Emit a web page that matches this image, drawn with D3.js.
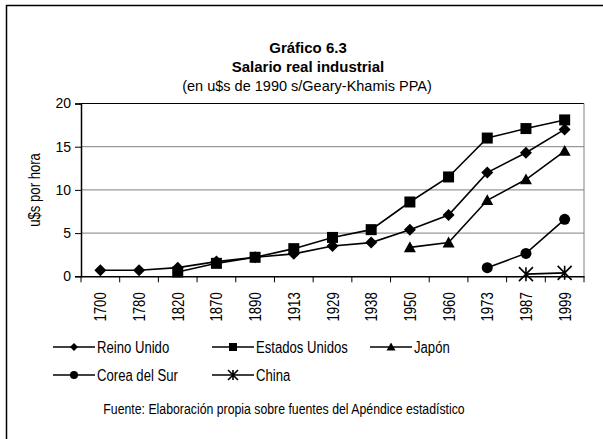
<!DOCTYPE html>
<html>
<head>
<meta charset="utf-8" />
<script src="https://cdn.jsdelivr.net/npm/d3@7"></script>
<style>
body { margin: 0; background: #fff; }
svg text { font-family: "Liberation Sans", Arial, sans-serif; fill: #000; }
.grid line { stroke: #808080; stroke-width: 1; }
.serie { fill: none; stroke: #000; stroke-width: 1.6; }
</style>
</head>
<body>
<svg id="chart" width="603" height="439"></svg>
<script>
var years = ["1700","1780","1820","1870","1890","1913","1929","1938","1950","1960","1973","1987","1999"];
var yTicks = [0, 5, 10, 15, 20];

// valores (null = sin dato)
var reinoUnido     = [0.7, 0.7, 1.0, 1.7, 2.2, 2.6, 3.5, 3.9, 5.4, 7.1, 12.0, 14.3, 17.0];
var estadosUnidos  = [null, null, 0.5, 1.5, 2.2, 3.2, 4.5, 5.4, 8.6, 11.5, 16.0, 17.1, 18.1];
var japon          = [null, null, null, null, null, null, null, null, 3.35, 3.9, 8.8, 11.2, 14.5];
var coreaDelSur    = [null, null, null, null, null, null, null, null, null, null, 1.0, 2.65, 6.6];
var china          = [null, null, null, null, null, null, null, null, null, null, null, 0.25, 0.4];

var series = [
  {name: "Reino Unido", values: reinoUnido, sym: "diamond"},
  {name: "Estados Unidos", values: estadosUnidos, sym: "square"},
  {name: "Japón", values: japon, sym: "triangle"},
  {name: "Corea del Sur", values: coreaDelSur, sym: "circle"},
  {name: "China", values: china, sym: "star"}
];

var svg = d3.select("#chart");
var pLeft = 81, pRight = 584, pTop = 103.5, pBottom = 276.3;
var narrow = 0.82; // el original usa una letra estrecha tipo Arial Narrow

// marco exterior
svg.append("rect").attr("x", 6.5).attr("y", 5.5).attr("width", 620).attr("height", 460)
  .attr("fill", "none").attr("stroke", "#000").attr("stroke-width", 1.5);

svg.append("text").attr("x", 308).attr("y", 53).attr("text-anchor", "middle")
  .style("font-size", "15px").style("font-weight", "bold").text("Gráfico 6.3");
svg.append("text").attr("x", 308).attr("y", 72).attr("text-anchor", "middle")
  .style("font-size", "15px").style("font-weight", "bold").text("Salario real industrial");
svg.append("text").attr("x", 307).attr("y", 91).attr("text-anchor", "middle")
  .style("font-size", "14.5px").text("(en u$s de 1990 s/Geary-Khamis PPA)");

var x = d3.scaleBand().domain(years).range([pLeft, pRight]);
var y = d3.scaleLinear().domain([0, 20]).range([pBottom, pTop]);

// rejilla
svg.append("g").attr("class", "grid").selectAll("line")
  .data(yTicks.filter(function(d) { return d > 0 && d < 20; })).enter().append("line")
  .attr("x1", pLeft).attr("x2", pRight).attr("y1", function(d) { return y(d); }).attr("y2", function(d) { return y(d); });

// borde del área de trazado
svg.append("line").attr("x1", pLeft).attr("x2", pRight).attr("y1", pTop).attr("y2", pTop)
  .attr("stroke", "#000").attr("stroke-width", 1);
svg.append("line").attr("x1", pRight).attr("x2", pRight).attr("y1", pTop).attr("y2", pBottom)
  .attr("stroke", "#808080").attr("stroke-width", 1);

// eje y
var yAxis = svg.append("g").attr("transform", "translate(" + pLeft + ",0)")
  .call(d3.axisLeft(y).tickValues(yTicks).tickSize(6).tickPadding(4));
yAxis.select(".domain").attr("stroke", "#000").attr("stroke-width", 1.5);
yAxis.selectAll(".tick line").attr("stroke", "#000");
yAxis.selectAll("text").style("font-size", "14px").attr("fill", "#000");

// eje x
var xAxis = svg.append("g").attr("transform", "translate(0," + pBottom + ")")
  .call(d3.axisBottom(x).tickSize(0).tickPadding(0));
xAxis.select(".domain").attr("stroke", "#000").attr("stroke-width", 1.5);
xAxis.selectAll("text").remove();
var bounds = years.map(function(d) { return x(d); }).concat([pRight]);
xAxis.selectAll(".xt").data(bounds).enter().append("line")
  .attr("x1", function(d) { return d; }).attr("x2", function(d) { return d; })
  .attr("y1", 0).attr("y2", 6).attr("stroke", "#000");
xAxis.selectAll(".xl").data(years).enter().append("text")
  .attr("transform", function(d) {
    return "translate(" + (x(d) + x.bandwidth() / 2 + 6) + ",16) rotate(-90) scale(" + narrow + ",1)";
  })
  .attr("text-anchor", "end").style("font-size", "16px").text(function(d) { return d; });

svg.append("text")
  .attr("transform", "translate(40," + ((pTop + pBottom) / 2) + ") rotate(-90) scale(" + narrow + ",1)")
  .attr("text-anchor", "middle").style("font-size", "16px").text("u$s por hora");

function cx(i) { return x(years[i]) + x.bandwidth() / 2; }

// r = medio ancho del marcador
function drawMarker(g, sym, px, py, r) {
  var p;
  if (sym === "star") {
    p = "M" + (px - r) + "," + (py - r) + "L" + (px + r) + "," + (py + r) +
        "M" + (px - r) + "," + (py + r) + "L" + (px + r) + "," + (py - r) +
        "M" + px + "," + (py - r) + "L" + px + "," + (py + r);
    g.append("path").attr("d", p).attr("stroke", "#000").attr("stroke-width", 1.6).attr("fill", "none");
    return;
  }
  if (sym === "diamond") {
    p = "M" + px + "," + (py - r) + "L" + (px + r) + "," + py + "L" + px + "," + (py + r) + "L" + (px - r) + "," + py + "Z";
  } else if (sym === "square") {
    p = "M" + (px - r) + "," + (py - r) + "h" + 2 * r + "v" + 2 * r + "h" + (-2 * r) + "Z";
  } else if (sym === "triangle") {
    p = "M" + px + "," + (py - r) + "L" + (px + r) + "," + (py + r * 0.8) + "L" + (px - r) + "," + (py + r * 0.8) + "Z";
  } else {
    p = d3.symbol().type(d3.symbolCircle).size(Math.PI * r * r)();
    g.append("path").attr("d", p).attr("transform", "translate(" + px + "," + py + ")").attr("fill", "#000");
    return;
  }
  g.append("path").attr("d", p).attr("fill", "#000");
}

var sizes = {diamond: 6, square: 5.5, triangle: 6, circle: 5.5, star: 7};
var legendSizes = {diamond: 4, square: 4, triangle: 4.5, circle: 4, star: 5};

var line = d3.line().defined(function(d) { return d != null; })
  .x(function(d, i) { return cx(i); }).y(function(d) { return y(d); });

series.forEach(function(s) {
  var g = svg.append("g");
  g.append("path").attr("class", "serie").attr("d", line(s.values));
  s.values.forEach(function(v, i) {
    if (v != null) drawMarker(g, s.sym, cx(i), y(v), sizes[s.sym]);
  });
});

// leyenda
var legendPos = [[53, 347], [212, 347], [370, 347], [53, 375], [212, 375]];
series.forEach(function(s, i) {
  var lx = legendPos[i][0], ly = legendPos[i][1];
  var g = svg.append("g");
  g.append("line").attr("x1", lx).attr("x2", lx + 42).attr("y1", ly).attr("y2", ly)
    .attr("stroke", "#000").attr("stroke-width", 1.6);
  drawMarker(g, s.sym, lx + 21, ly, legendSizes[s.sym]);
  g.append("text").attr("transform", "translate(" + (lx + 44) + "," + (ly + 6) + ") scale(" + narrow + ",1)")
    .style("font-size", "16px").text(s.name);
});

svg.append("text").attr("transform", "translate(284,414) scale(" + narrow + ",1)").attr("text-anchor", "middle")
  .style("font-size", "15px").text("Fuente: Elaboración propia sobre fuentes del Apéndice estadístico");
</script>
</body>
</html>
